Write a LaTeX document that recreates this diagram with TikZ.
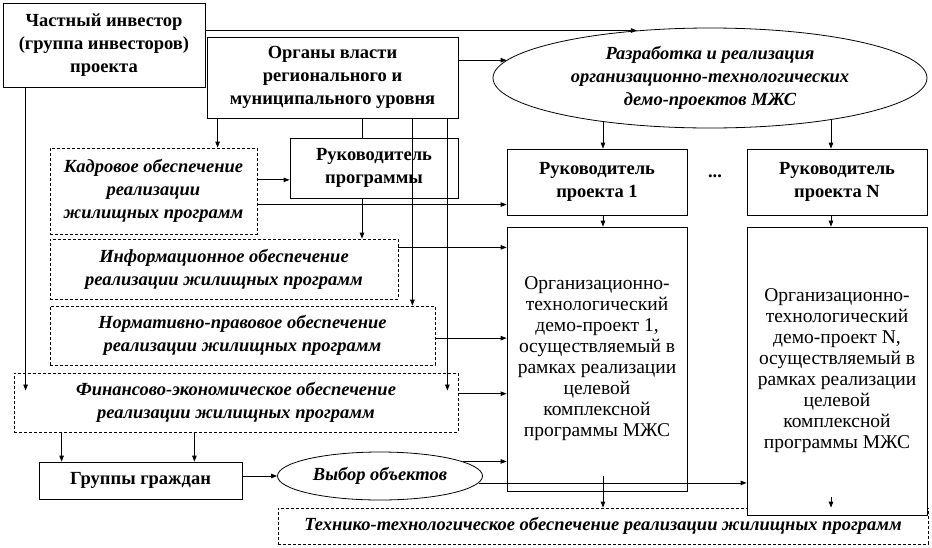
\documentclass[tikz,border=0pt]{standalone}
\usepackage{fontspec}
\setmainfont{Liberation Serif}
\usetikzlibrary{shapes.geometric,arrows.meta,calc}
\newcommand{\dsize}{\fontsize{18.5}{23}\selectfont}
\tikzset{
  box/.style={draw, rectangle, align=center, inner sep=0pt, font=\dsize\bfseries},
  dbox/.style={draw, rectangle, dash pattern=on 3pt off 2pt, align=center, inner sep=0pt, font=\dsize\bfseries\itshape},
  oval/.style={draw, ellipse, align=center, inner sep=0pt, font=\dsize\bfseries\itshape},
  demobox/.style={draw, rectangle, align=center, inner sep=0pt, font=\fontsize{19.5}{21}\selectfont},
}
\begin{document}
\begin{tikzpicture}[x=1pt,y=-1pt,line width=0.8pt,>={Triangle[length=6pt,width=4.5pt]}]
  \useasboundingbox (0,0) rectangle (932,547);
  % Верхний уровень
  \node[box,minimum width=202pt,minimum height=84pt] (inv) at (104,45) {Частный инвестор\\(группа инвесторов)\\проекта};
  \node[box,minimum width=251pt,minimum height=81pt] (org) at (332.5,77.5) {Органы власти\\регионального и\\муниципального уровня};
  \node[oval,minimum width=434pt,minimum height=100pt] (ell) at (710,78) {Разработка и реализация\\организационно-технологических\\демо-проектов МЖС};
  % Руководители
  \node[box,minimum width=168pt,minimum height=60pt] (rpprog) at (374,168) {Руководитель\\программы};
  \node[box,minimum width=180pt,minimum height=66pt] (rp1) at (597,182) {Руководитель\\проекта 1};
  \node[box,minimum width=180pt,minimum height=66pt] (rpn) at (837,182) {Руководитель\\проекта N};
  \node[font=\dsize\bfseries] (dots) at (715,176) {...};
  % Обеспечение
  \node[dbox,minimum width=207pt,minimum height=86pt] (kadr) at (153.5,191) {Кадровое обеспечение\\реализации\\жилищных программ};
  \node[dbox,minimum width=348pt,minimum height=60pt] (info) at (224,269) {Информационное обеспечение\\реализации жилищных программ};
  \node[dbox,minimum width=385pt,minimum height=59pt] (norm) at (242.5,335.5) {Нормативно-правовое обеспечение\\реализации жилищных программ};
  \node[dbox,minimum width=444pt,minimum height=59pt] (fin) at (236,402.5) {Финансово-экономическое обеспечение\\реализации жилищных программ};
  % Демо-проекты
  \node[demobox,minimum width=180pt,minimum height=264pt] (demo1) at (597,359) {Организационно-\\технологический\\демо-проект 1,\\осуществляемый в\\рамках реализации\\целевой\\комплексной\\программы МЖС};
  \node[dbox,minimum width=650pt,minimum height=36pt] (tech) at (603,526) {Технико-технологическое обеспечение реализации жилищных программ};
  \node[demobox,fill=white,minimum width=180pt,minimum height=288pt] (demon) at (837,371) {Организационно-\\технологический\\демо-проект N,\\осуществляемый в\\рамках реализации\\целевой\\комплексной\\программы МЖС};
  % Нижний уровень
  \node[box,minimum width=203pt,minimum height=37pt] (grp) at (140.5,480.5) {Группы граждан};
  \node[oval,minimum width=205pt,minimum height=48pt] (vyb) at (380,476) {Выбор объектов};

  % Связи с демо-проектами МЖС
  \draw[->] (inv.east |- ell.147) -- (ell.147);
  \draw[->] (org.east |- ell.175) -- (ell.175);
  \coordinate (a1) at ([xshift=6pt]rp1.north);
  \coordinate (an) at ([xshift=-6pt]rpn.north);
  \draw[->] (a1 |- ell.202) -- (a1);
  \draw[->] (an |- ell.341) -- (an);
  % Органы власти
  \coordinate (finin) at ($(fin.north)!.3!(fin.south)$);
  \coordinate (k1) at ([xshift=11pt]org.south west);
  \coordinate (o1) at ([xshift=-12pt]rpprog.north);
  \coordinate (o2) at ([xshift=-12pt]rpprog.south);
  \coordinate (o3) at ([xshift=-46pt]org.south east);
  \coordinate (o4) at ([xshift=-11pt]org.south east);
  \draw[->] (k1) -- (k1 |- kadr.north);
  \draw (o1 |- org.south) -- (o1);
  \draw[->] (o2) -- (o2 |- info.north);
  \draw[->] (o3) -- (o3 |- norm.north);
  \draw[->] (o4) -- (o4 |- finin);
  % Инвестор
  \coordinate (i1) at ([xshift=23pt]inv.south west);
  \draw[->] (i1) -- (i1 |- finin);
  % Обеспечение -> руководители и проекты
  \draw[->] (kadr.east |- rpprog.188) -- (rpprog.188);
  \draw[->] (kadr.east |- rp1.194) -- (rp1.194);
  \draw[->] (info.east |- demo1.129) -- (demo1.129);
  \draw[->] (norm.east |- demo1.167) -- (demo1.167);
  \draw[->] (fin.east |- demo1.201) -- (demo1.201);
  \coordinate (p1) at ([xshift=6pt]rp1.south);
  \coordinate (pn) at ([xshift=-6pt]rpn.south);
  \draw[->] (p1) -- (p1 |- demo1.north);
  \draw[->] (pn) -- (pn |- demon.north);
  % Граждане и выбор объектов
  \coordinate (g1) at ([xshift=23pt]grp.north west);
  \coordinate (g2) at ([xshift=-48pt]grp.north east);
  \draw[->] (g1 |- fin.south) -- (g1);
  \draw[->] (g2 |- fin.south) -- (g2);
  \draw[->] (grp.east |- vyb.west) -- (vyb.west);
  \draw[->] (vyb.10) -- (vyb.10 -| demo1.west);
  \draw[->] (vyb.356) -- (vyb.356 -| demon.west);
  \draw[->] (tech.north |- vyb.east) -- (tech.north);
  \coordinate (dn) at ([xshift=-6pt,yshift=18pt]demon.south);
  \draw[->] (dn) -- (dn |- tech.north);
\end{tikzpicture}
\end{document}
